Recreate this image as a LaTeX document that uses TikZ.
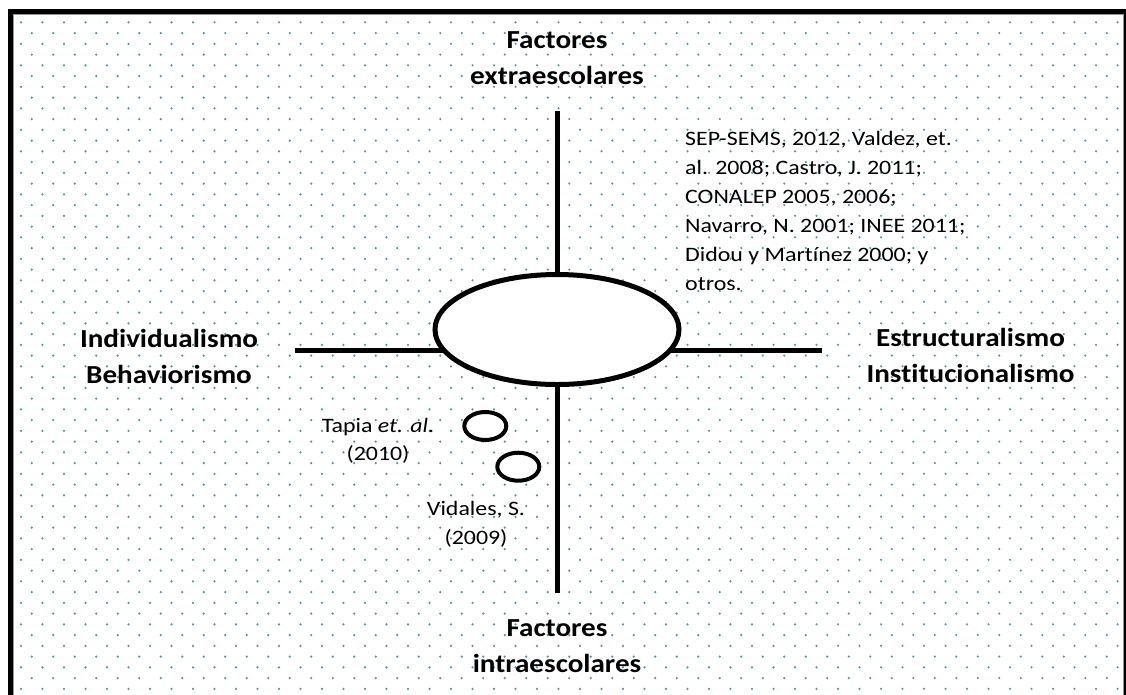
\documentclass[tikz,border=0pt]{standalone}
\usepackage{fontspec}
\setmainfont{Carlito}[Ligatures=CommonOff]
\newfontfamily\headfont{Carlito}[FakeStretch=1.12, Ligatures=CommonOff]
\newfontfamily\citefont{Carlito}[FakeStretch=1.165, Ligatures=CommonOff]
\usetikzlibrary{shapes.geometric}
\definecolor{dotc}{RGB}{70,152,172}
\definecolor{framegray}{RGB}{150,150,150}
\tikzset{
  heading/.style={font=\headfont\bfseries\fontsize{26}{36}\selectfont, align=center, inner sep=0pt},
  cite/.style={font=\citefont\fontsize{20.5}{28.5}\selectfont, align=center, inner sep=0pt},
  axis/.style={line width=5pt},
  bigoval/.style={ellipse, draw, fill=white, line width=5pt, inner sep=0pt, minimum width=244pt, minimum height=110pt},
  smalloval/.style={ellipse, draw, fill=white, line width=4pt, inner sep=0pt, minimum width=42pt, minimum height=28pt},
}
\begin{document}
\begin{tikzpicture}[x=1pt,y=-1pt]
\useasboundingbox (0,0) rectangle (1126,694);
\fill[white] (0,0) rectangle (1126,694);
% dotted background
\foreach \j in {0,...,62}{
  \pgfmathsetmacro\yy{22.3+10.75*\j}
  \pgfmathsetmacro\xs{ifthenelse(mod(\j,2)==0,21,31.75)}
  \foreach \i in {0,...,51}{
    \fill[dotc] (\xs+21.5*\i,\yy) circle (1.2pt);
  }
}
% frame
\draw[line width=5pt] (10.5,700) -- (10.5,11.5) -- (1126.5,11.5) -- (1126.5,700);
\draw[framegray, line width=1pt] (13.8,700) -- (13.8,14.5) -- (1123.2,14.5) -- (1123.2,700);
% axes
\coordinate (left) at (295,350.5);
\coordinate (right) at (822,350.5);
\coordinate (top) at (557,111);
\coordinate (bottom) at (557,593);
\draw[axis] (left) -- (right);
\draw[axis] (top) -- (bottom);
\node[bigoval] (core) at (557,329.5) {};
\node[smalloval] (tapiaoval) at (485.3,426) {};
\node[smalloval] (vidalesoval) at (518.3,466.7) {};
% labels
\node[heading] (extra) at (557,57.7) {Factores\\extraescolares};
\node[heading] (intra) at (557,646.6) {Factores\\intraescolares};
\node[heading] (indiv) at (169,356.3) {Individualismo\\Behaviorismo};
\node[heading] (estruc) at (970.5,355) {Estructuralismo\\Institucionalismo};
\node[cite] (tapia) at (378,441) {Tapia \textit{et. al}.\\(2010)};
\node[cite] (vidales) at (476,524.5) {Vidales, S.\\(2009)};
\node[cite, align=left, anchor=north west, font=\citefont\fontsize{20.5}{29.1}\selectfont] (refs) at (685,131)
  {SEP-SEMS, 2012, Valdez, et.\\al. 2008; Castro, J. 2011;\\CONALEP 2005, 2006;\\Navarro, N. 2001; INEE 2011;\\Didou y Martínez 2000; y\\otros.};
\end{tikzpicture}
\end{document}
